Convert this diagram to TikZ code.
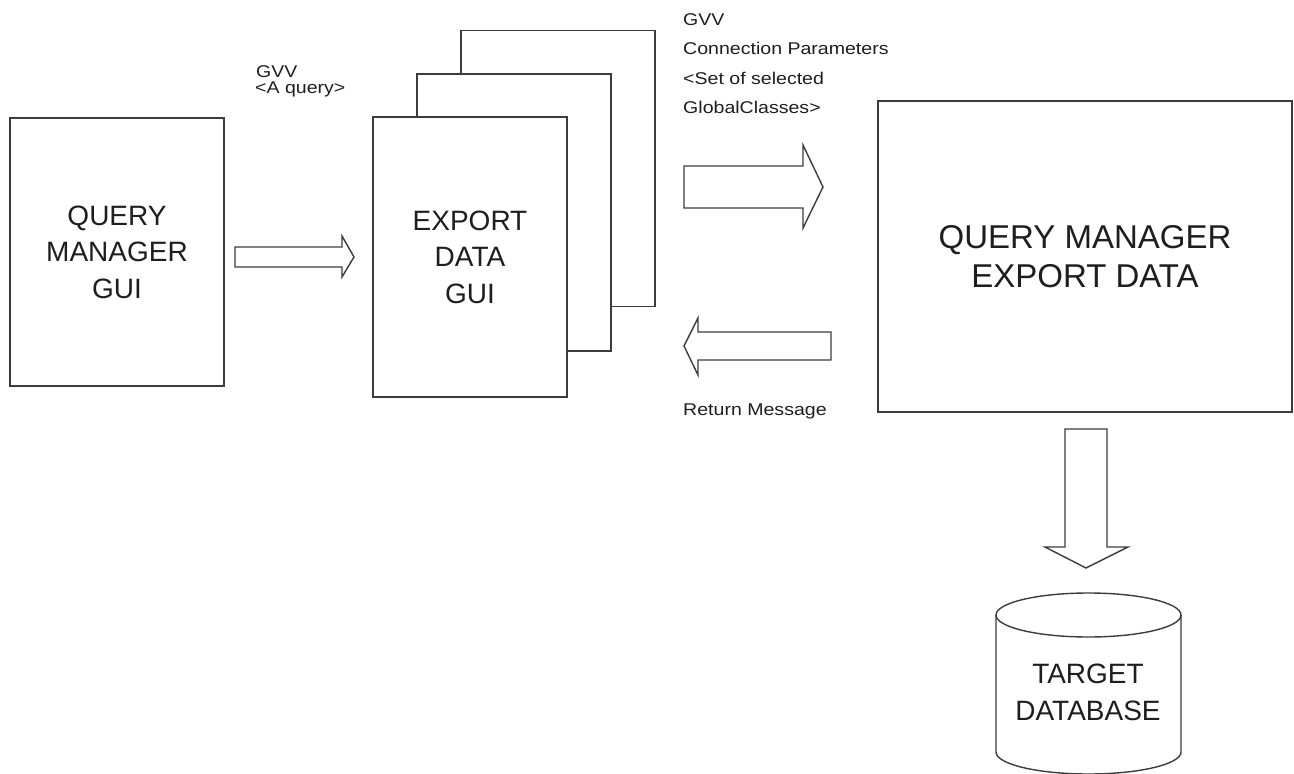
\documentclass[tikz,border=0pt]{standalone}
\usepackage{fontspec}
\setmainfont{Liberation Sans}
\definecolor{linegray}{HTML}{3C3C3C}
\definecolor{inkblack}{HTML}{1E1E1E}
\begin{document}
\begin{tikzpicture}[x=1pt,y=-1pt,
  box/.style={draw=linegray, line width=1.6pt, fill=white, inner sep=0pt,
              text=inkblack, align=center},
  bigtext/.style={font=\fontsize{28}{36.5}\selectfont},
  hugetext/.style={font=\fontsize{33}{39}\selectfont},
  note/.style={font=\fontsize{17}{20}\selectfont, text=inkblack,
               anchor=base west, inner sep=0pt, xscale=1.15},
  blockarrow/.style={draw=linegray, line width=1.4pt, fill=white, line join=miter},
]
\useasboundingbox (0,0) rectangle (1294,774);

% query manager front end
\node[box, bigtext, minimum width=214pt, minimum height=268pt] (qmgui) at (117,252)
  {QUERY\\MANAGER\\GUI};

% stack of export windows
\node[box, minimum width=194pt, minimum height=276pt] (page3) at (558,168.5) {};
\node[box, minimum width=194pt, minimum height=277pt] (page2) at (514,212.5) {};
\node[box, bigtext, minimum width=194pt, minimum height=280pt] (page1) at (470,257)
  {EXPORT\\DATA\\GUI};

% export engine
\node[box, hugetext, minimum width=414pt, minimum height=311pt] (qmed) at (1085,256.5)
  {QUERY MANAGER\\EXPORT DATA};

% labels
\node[note] (lblgvv) at (256,77) {GVV};
\node[note] (lblquery) at (255,93) {<A query>};
\node[note] (lblgvv2) at (683,25) {GVV};
\node[note] (lblconn) at (683,54.5) {Connection Parameters};
\node[note] (lblset) at (683,84) {<Set of selected};
\node[note] (lblclasses) at (683,113) {GlobalClasses>};
\node[note] (lblreturn) at (683,415) {Return Message};

% block arrows
\draw[blockarrow] (235,247) -- (342,247) -- (342,236) -- (354,257) -- (342,277)
  -- (342,267) -- (235,267) -- cycle;
\draw[blockarrow] (684,166) -- (803,166) -- (803,145) -- (823,187) -- (803,228)
  -- (803,208) -- (684,208) -- cycle;
\draw[blockarrow] (831,332) -- (698,332) -- (698,318) -- (684,346) -- (698,375)
  -- (698,360) -- (831,360) -- cycle;
\draw[blockarrow] (1065,429) -- (1107,429) -- (1107,547) -- (1128,547) -- (1086,568)
  -- (1045,547) -- (1065,547) -- cycle;

% target database cylinder
\draw[draw=linegray, line width=1.4pt, fill=white]
  (996,615) -- (996,752) arc[start angle=180, end angle=0, x radius=92.5, y radius=22]
  -- (1181,615);
\draw[draw=linegray, line width=1.4pt, fill=white]
  (1088.5,615) ellipse[x radius=92.5, y radius=22];
\node[bigtext, text=inkblack, align=center] (db) at (1088,692.5) {TARGET\\DATABASE};
\end{tikzpicture}
\end{document}
